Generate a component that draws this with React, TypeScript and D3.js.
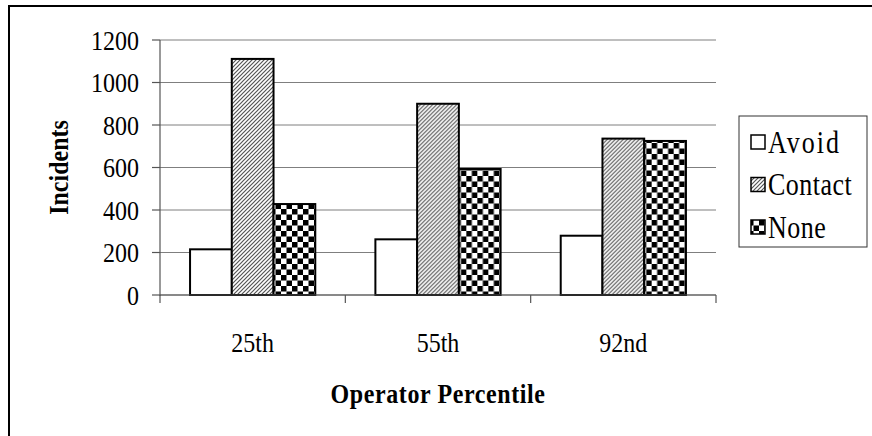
import React from 'react';
import * as d3 from 'd3';

const categories = ['25th', '55th', '92nd'];
const seriesNames = ['Avoid', 'Contact', 'None'];
const avoid = [215, 262, 279];
const contact = [1111, 900, 736];
const none = [428, 593, 725];
const yTicks = [0, 200, 400, 600, 800, 1000, 1200];

const seriesValues = [avoid, contact, none];
const fills = ['#ffffff', 'url(#hatch)', 'url(#checker)'];

const W = 872;
const H = 436;
const left = 160;
const right = 716;
const top = 40;
const bottom = 295;
const font = "'Liberation Serif', 'Times New Roman', serif";
const stretch = 1.18;

// text in the reference is a bit taller than normal Times, so stretch it vertically
function Label(props: {
  x: number;
  y: number;
  rotate?: number;
  anchor?: string;
  size?: number;
  bold?: boolean;
  spacing?: number;
  children: React.ReactNode;
}) {
  const { x, y, rotate = 0, anchor = 'start', size = 24, bold, spacing = 0 } = props;
  return (
    <g transform={`translate(${x},${y}) rotate(${rotate}) scale(1,${stretch})`}>
      <text
        dy="0.35em"
        textAnchor={anchor}
        fontFamily={font}
        fontSize={size}
        fontWeight={bold ? 'bold' : 'normal'}
        letterSpacing={spacing}
        fill="#000"
      >
        {props.children}
      </text>
    </g>
  );
}

export default function App() {
  const x0 = d3.scaleBand<string>().domain(categories).range([left, right]);
  const x1 = d3
    .scaleBand<string>()
    .domain(seriesNames)
    .range([0, x0.bandwidth()])
    .paddingOuter(0.72);
  const y = d3.scaleLinear().domain([0, 1200]).range([bottom, top]);

  const tickXs = [...categories.map((c) => x0(c)!), right];

  return (
    <div style={{ position: 'absolute', left: 0, top: 0 }}>
      <svg width={W} height={H} style={{ display: 'block', background: '#fff' }}>
        <defs>
          <pattern id="hatch" width={4} height={4} patternUnits="userSpaceOnUse">
            <rect width={4} height={4} fill="#fff" />
            <path d="M-1,1 L1,-1 M0,4 L4,0 M3,5 L5,3" stroke="#555" strokeWidth={1.2} />
          </pattern>
          <pattern id="checker" width={11} height={11} patternUnits="userSpaceOnUse">
            <rect width={11} height={11} fill="#fff" />
            <rect x={0} y={0} width={5.5} height={5.5} fill="#000" />
            <rect x={5.5} y={5.5} width={5.5} height={5.5} fill="#000" />
          </pattern>
        </defs>

        {/* outer frame */}
        <rect x={9} y={6} width={W + 10} height={H + 10} fill="none" stroke="#000" strokeWidth={2} />

        {/* gridlines */}
        {yTicks.map((t) => (
          <line key={'g' + t} x1={left} x2={right} y1={y(t)} y2={y(t)} stroke="#7f7f7f" strokeWidth={1} />
        ))}

        {/* bars */}
        {categories.map((c, ci) => (
          <g key={c} transform={`translate(${x0(c)},0)`}>
            {seriesNames.map((s, si) => {
              const v = seriesValues[si][ci];
              return (
                <rect
                  key={s}
                  x={x1(s)}
                  y={y(v)}
                  width={x1.bandwidth()}
                  height={y(0) - y(v)}
                  fill={fills[si]}
                  stroke="#000"
                  strokeWidth={2}
                />
              );
            })}
          </g>
        ))}

        {/* y axis */}
        <line x1={left} x2={left} y1={top} y2={bottom + 1} stroke="#555" strokeWidth={1.2} />
        {yTicks.map((t) => (
          <g key={'t' + t}>
            <line x1={left - 8} x2={left} y1={y(t)} y2={y(t)} stroke="#555" strokeWidth={1.2} />
            <Label x={139} y={y(t)} anchor="end">
              {t}
            </Label>
          </g>
        ))}

        {/* x axis */}
        <line x1={left} x2={right} y1={bottom} y2={bottom} stroke="#555" strokeWidth={1.2} />
        {tickXs.map((tx, i) => (
          <line key={'xt' + i} x1={tx} x2={tx} y1={bottom} y2={bottom + 8} stroke="#555" strokeWidth={1.2} />
        ))}
        {categories.map((c) => (
          <Label key={'l' + c} x={x0(c)! + x0.bandwidth() / 2} y={342} anchor="middle">
            {c}
          </Label>
        ))}

        {/* axis titles */}
        <Label x={(left + right) / 2} y={393} anchor="middle" bold spacing={0.6}>
          Operator Percentile
        </Label>
        <g transform={`translate(58,${(top + bottom) / 2}) rotate(-90) scale(1,${stretch})`}>
          <text dy="0.35em" textAnchor="middle" fontFamily={font} fontSize={24} fontWeight="bold" fill="#000">
            Incidents
          </text>
        </g>

        {/* legend */}
        <rect x={739} y={116} width={128} height={131} fill="#fff" stroke="#333" strokeWidth={1} />
        {seriesNames.map((s, i) => {
          const cy = 142 + i * 42.5;
          return (
            <g key={'lg' + s}>
              <rect x={751} y={cy - 7} width={14} height={14} fill={fills[i]} stroke="#000" strokeWidth={1.5} />
              <Label x={768} y={cy} size={26} spacing={s === 'Avoid' ? 2 : 0.5}>
                {s}
              </Label>
            </g>
          );
        })}
      </svg>
    </div>
  );
}
